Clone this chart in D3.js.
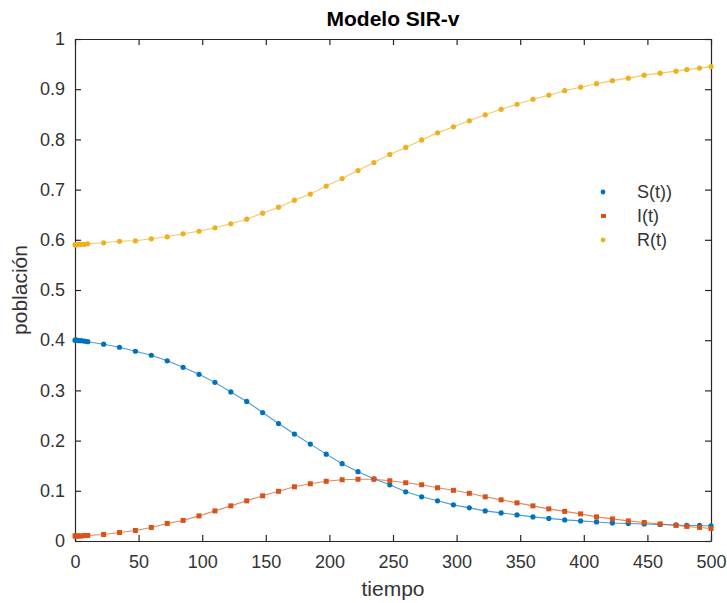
<!DOCTYPE html>
<html>
<head>
<meta charset="utf-8">
<script src="https://cdn.jsdelivr.net/npm/d3@7"></script>
<style>
    body { margin: 0; background: #fff; }
    svg { display: block; font-family: "Liberation Sans", Arial, sans-serif; }
    .tick-label { fill: #333; font-size: 18px; }
</style>
</head>
<body>
<div id="chart-container"></div>
<script>
// time steps of the solver output
const TIME = [0, 0.5, 1.5, 3, 5, 7.5, 10,
    22.5, 35, 47.5, 60, 72.5, 85, 97.5, 110, 122.5, 135, 147.5, 160, 172.5, 185, 197.5,
    210, 222.5, 235, 247.5, 260, 272.5, 285, 297.5, 310, 322.5, 335, 347.5, 360, 372.5,
    385, 397.5, 410, 422.5, 435, 447.5, 460, 472.5, 481, 491, 500];

// susceptibles
const S_VALUES = [0.400, 0.400, 0.400, 0.399, 0.399, 0.398, 0.397,
    0.392, 0.386, 0.378, 0.370, 0.359, 0.346, 0.332, 0.316, 0.297, 0.278, 0.256, 0.234, 0.213, 0.193, 0.173,
    0.154, 0.138, 0.124, 0.112, 0.098, 0.088, 0.080, 0.072, 0.066, 0.060, 0.056, 0.052, 0.048, 0.045,
    0.042, 0.040, 0.038, 0.036, 0.035, 0.034, 0.033, 0.032, 0.031, 0.031, 0.030];

// infectados
const I_VALUES = [0.010, 0.010, 0.010, 0.010, 0.010, 0.011, 0.011,
    0.013, 0.017, 0.021, 0.027, 0.035, 0.041, 0.050, 0.060, 0.070, 0.080, 0.090, 0.099, 0.108, 0.114, 0.119,
    0.122, 0.123, 0.123, 0.120, 0.116, 0.112, 0.106, 0.101, 0.095, 0.088, 0.082, 0.076, 0.070, 0.064,
    0.059, 0.054, 0.048, 0.044, 0.040, 0.037, 0.034, 0.031, 0.029, 0.027, 0.025];

// recuperados
const R_VALUES = [0.590, 0.590, 0.590, 0.591, 0.591, 0.591, 0.592,
    0.594, 0.597, 0.598, 0.602, 0.606, 0.612, 0.617, 0.624, 0.632, 0.641, 0.653, 0.665, 0.679, 0.691, 0.707,
    0.722, 0.738, 0.754, 0.770, 0.784, 0.799, 0.813, 0.825, 0.837, 0.849, 0.860, 0.870, 0.880, 0.888,
    0.897, 0.904, 0.911, 0.917, 0.922, 0.928, 0.932, 0.936, 0.939, 0.942, 0.945];

const X_TICKS = [0, 50, 100, 150, 200, 250, 300, 350, 400, 450, 500];
const Y_TICKS = [0, 0.1, 0.2, 0.3, 0.4, 0.5, 0.6, 0.7, 0.8, 0.9, 1];

const SERIES = [
    { name: "S(t))", values: S_VALUES, color: "#0072BD", marker: "dot" },
    { name: "I(t)", values: I_VALUES, color: "#D95319", marker: "square" },
    { name: "R(t)", values: R_VALUES, color: "#EDB120", marker: "dot" },
];

function drawChart() {
    const W = 727, H = 603;
    const left = 75, right = 711, top = 39, bottom = 541;

    const svg = d3.select("#chart-container")
        .append("svg")
        .attr("width", W)
        .attr("height", H);

    const x = d3.scaleLinear().domain([0, 500]).range([left, right]);
    const y = d3.scaleLinear().domain([0, 1]).range([bottom, top]);

    // axes, ticks inside like matlab
    const fmt = d3.format("~g");
    const axisColor = "#262626";

    const gx = svg.append("g")
        .attr("transform", `translate(0,${bottom})`)
        .call(d3.axisBottom(x).tickValues(X_TICKS).tickSize(-6).tickSizeOuter(0).tickPadding(14).tickFormat(fmt));
    const gxTop = svg.append("g")
        .attr("transform", `translate(0,${top})`)
        .call(d3.axisTop(x).tickValues(X_TICKS).tickSize(-6).tickSizeOuter(0).tickFormat(""));
    const gy = svg.append("g")
        .attr("transform", `translate(${left},0)`)
        .call(d3.axisLeft(y).tickValues(Y_TICKS).tickSize(-6).tickSizeOuter(0).tickPadding(10).tickFormat(fmt));
    const gyRight = svg.append("g")
        .attr("transform", `translate(${right},0)`)
        .call(d3.axisRight(y).tickValues(Y_TICKS).tickSize(-6).tickSizeOuter(0).tickFormat(""));

    [gx, gxTop, gy, gyRight].forEach(g => {
        g.select(".domain").attr("stroke", axisColor).attr("stroke-width", 1.2);
        g.selectAll(".tick line").attr("stroke", axisColor).attr("stroke-width", 1.2);
        g.selectAll(".tick text").attr("class", "tick-label").attr("fill", "#333").attr("font-size", null).style("font-family", null);
    });

    // curves
    const line = d3.line()
        .x((d, i) => x(TIME[i]))
        .y(d => y(d));

    SERIES.forEach(s => {
        const g = svg.append("g");
        g.append("path")
            .datum(s.values)
            .attr("fill", "none")
            .attr("stroke", s.color)
            .attr("stroke-opacity", 0.7)
            .attr("stroke-width", 1.1)
            .attr("d", line);

        if (s.marker === "dot") {
            g.selectAll("circle")
                .data(s.values)
                .enter()
                .append("circle")
                .attr("cx", (d, i) => x(TIME[i]))
                .attr("cy", d => y(d))
                .attr("r", 2.6)
                .attr("fill", s.color);
        } else {
            g.selectAll("rect")
                .data(s.values)
                .enter()
                .append("rect")
                .attr("x", (d, i) => x(TIME[i]) - 2.5)
                .attr("y", d => y(d) - 2.5)
                .attr("width", 5)
                .attr("height", 5)
                .attr("fill", s.color);
        }
    });

    // legend
    const legend = svg.append("g");
    SERIES.forEach((s, i) => {
        const ly = 192 + i * 24;
        if (s.marker === "dot") {
            legend.append("circle").attr("cx", 603).attr("cy", ly).attr("r", 2.4).attr("fill", s.color);
        } else {
            legend.append("rect").attr("x", 601).attr("y", ly - 2).attr("width", 5).attr("height", 4).attr("fill", s.color);
        }
        legend.append("text")
            .attr("x", 637)
            .attr("y", ly)
            .attr("dy", "0.35em")
            .attr("fill", "#333")
            .style("font-size", "18px")
            .text(s.name);
    });

    // title and labels
    svg.append("text")
        .attr("x", (left + right) / 2)
        .attr("y", 26)
        .attr("text-anchor", "middle")
        .attr("fill", "#000")
        .style("font-size", "21px")
        .style("font-weight", "bold")
        .text("Modelo SIR-v");

    svg.append("text")
        .attr("x", (left + right) / 2)
        .attr("y", 596)
        .attr("text-anchor", "middle")
        .attr("fill", "#333")
        .style("font-size", "21px")
        .text("tiempo");

    svg.append("text")
        .attr("transform", `translate(27,${(top + bottom) / 2}) rotate(-90)`)
        .attr("text-anchor", "middle")
        .attr("fill", "#333")
        .style("font-size", "21px")
        .text("población");
}

window.onload = () => {
    drawChart();
};
</script>
</body>
</html>
